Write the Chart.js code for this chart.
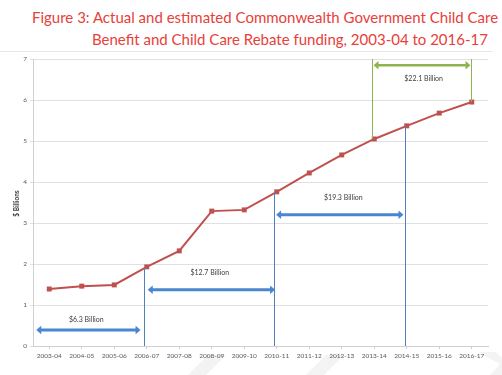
<!DOCTYPE html>
<html>
<head>
<meta charset="utf-8">
<script src="https://cdn.jsdelivr.net/npm/chart.js@4/dist/chart.umd.min.js"></script>
<style>
  html, body { margin: 0; padding: 0; background: #ffffff; }
  #wrap { position: relative; width: 502px; height: 375px; overflow: hidden; }
  #bg { position: absolute; left: 0; top: 0; }
  #c { position: absolute; left: 0; top: 0; }
  .t { position: absolute; font-family: Lato, "Open Sans", sans-serif; font-size: 15px; color: #e8403a; white-space: nowrap; line-height: 20px; }
  #sep { position: absolute; left: 0; top: 51px; width: 492px; height: 1px; background: #e6e6e6; }
</style>
</head>
<body>
<div id="wrap">
  <svg id="bg" width="502" height="375">
    <polygon points="188,375 206,375 226,355 208,355" fill="#f3f3f3"/>
    <polygon points="306,375 324,375 344,355 326,355" fill="#f3f3f3"/>
    <polygon points="478,352 496,352 502,358 502,375 490,375 500,364" fill="#f3f3f3"/>
  </svg>
  <div class="t" id="t1" style="left:32px; top:7px;">Figure 3: Actual and estimated Commonwealth Government Child Care</div>
  <div class="t" id="t2" style="left:92px; top:29px;">Benefit and Child Care Rebate funding, 2003-04 to 2016-17</div>
  <div id="sep"></div>
  <canvas id="c" width="502" height="375"></canvas>
</div>
<script>
// ---- data ----
const categories = ['2003-04','2004-05','2005-06','2006-07','2007-08','2008-09','2009-10','2010-11','2011-12','2012-13','2013-14','2014-15','2015-16','2016-17'];
const funding = [1.39, 1.46, 1.49, 1.93, 2.32, 3.29, 3.32, 3.76, 4.22, 4.66, 5.05, 5.37, 5.68, 5.95];
const yTicks = [0, 1, 2, 3, 4, 5, 6, 7];
const yTitle = '$ Billions';

// period spans (category index units) and their totals
const spanLabels = ['$6.3 Billion', '$12.7 Billion', '$19.3 Billion'];
const spanStart = [-0.40, 3.03, 6.98];
const spanEnd = [2.81, 6.95, 10.90];
const spanLevel = [0.39, 1.37, 3.20];
const spanLabelX = [1.14, 4.94, 9.05];
const spanLabelY = [0.63, 1.78, 3.61];
const dividerAt = [2.92, 6.92, 10.96];
const dividerTop = [1.93, 3.76, 5.37];

const totalLabel = '$22.1 Billion';
const totalStart = 9.94;
const totalEnd = 12.97;
const totalLevel = 6.85;
const totalLabelX = 11.52;
const totalLabelY = 6.51;
const totalLeftBottom = 5.05;
const totalRightBottom = 5.95;

function arrowHead(ctx, x, y, dir, size) {
  ctx.beginPath();
  ctx.moveTo(x, y);
  ctx.lineTo(x - dir * size, y - size * 0.85);
  ctx.lineTo(x - dir * size, y + size * 0.85);
  ctx.closePath();
  ctx.fill();
}

const annot = {
  id: 'annot',
  afterDatasetsDraw(chart) {
    const ctx = chart.ctx, xs = chart.scales.x, ys = chart.scales.y;
    const X = v => xs.getPixelForValue(v);
    const Y = v => ys.getPixelForValue(v);
    ctx.save();
    // blue dividers
    ctx.strokeStyle = '#4f81bd'; ctx.lineWidth = 1;
    dividerAt.forEach((d, i) => {
      const x = Math.round(X(d)) + 0.5;
      ctx.beginPath(); ctx.moveTo(x, Y(0)); ctx.lineTo(x, Y(dividerTop[i])); ctx.stroke();
    });
    // blue arrows
    ctx.strokeStyle = '#4a86cf'; ctx.fillStyle = '#4a86cf'; ctx.lineWidth = 3;
    spanStart.forEach((s, i) => {
      const x1 = X(s), x2 = X(spanEnd[i]), y = Y(spanLevel[i]);
      ctx.beginPath(); ctx.moveTo(x1 + 4, y); ctx.lineTo(x2 - 4, y); ctx.stroke();
      arrowHead(ctx, x1, y, -1, 5);
      arrowHead(ctx, x2, y, 1, 5);
    });
    // green bracket
    ctx.strokeStyle = '#8fb44e'; ctx.fillStyle = '#8fb44e'; ctx.lineWidth = 1;
    const gx1 = Math.round(X(totalStart)) + 0.5, gx2 = Math.round(X(totalEnd)) + 0.5;
    ctx.beginPath(); ctx.moveTo(gx1, Y(7)); ctx.lineTo(gx1, Y(totalLeftBottom)); ctx.stroke();
    ctx.beginPath(); ctx.moveTo(gx2, Y(7)); ctx.lineTo(gx2, Y(totalRightBottom)); ctx.stroke();
    ctx.lineWidth = 2.5;
    const gy = Y(totalLevel);
    ctx.beginPath(); ctx.moveTo(gx1 + 4, gy); ctx.lineTo(gx2 - 4, gy); ctx.stroke();
    arrowHead(ctx, gx1 + 1, gy, -1, 5);
    arrowHead(ctx, gx2 - 1, gy, 1, 5);
    // labels
    ctx.fillStyle = '#404040';
    ctx.font = '7px Lato, "Open Sans", sans-serif';
    ctx.textAlign = 'center'; ctx.textBaseline = 'middle';
    spanLabels.forEach((l, i) => ctx.fillText(l, X(spanLabelX[i]), Y(spanLabelY[i])));
    ctx.fillText(totalLabel, X(totalLabelX), Y(totalLabelY));
    // y axis title
    ctx.save();
    ctx.translate(17, (ys.top + ys.bottom) / 2 + 1);
    ctx.rotate(-Math.PI / 2);
    ctx.font = 'bold 6.5px Lato, "Open Sans", sans-serif';
    ctx.fillText(yTitle, 0, 0);
    ctx.restore();
    ctx.restore();
  }
};

new Chart(document.getElementById('c'), {
  type: 'line',
  data: {
    labels: categories,
    datasets: [{
      data: funding,
      borderColor: '#c0504d',
      backgroundColor: '#c0504d',
      borderWidth: 2,
      pointStyle: 'rect',
      pointRadius: 3.5,
      pointBorderWidth: 0,
      tension: 0
    }]
  },
  options: {
    responsive: false,
    animation: false,
    devicePixelRatio: 1,
    layout: { padding: { top: 59, left: 0, right: 14, bottom: 0 } },
    plugins: { legend: { display: false }, tooltip: { enabled: false }, title: { display: false } },
    scales: {
      x: {
        offset: true,
        afterFit(s) { s.height = 29; },
        grid: { display: true, drawOnChartArea: false, drawTicks: true, tickLength: 3, color: '#d0d0d0', offset: false },
        border: { color: '#d0d0d0' },
        ticks: { color: '#595959', font: { size: 6.5, family: 'Lato, "Open Sans", sans-serif' }, maxRotation: 0, autoSkip: false, padding: 3 }
      },
      y: {
        min: 0, max: 7,
        afterFit(s) { s.width = 33; },
        afterBuildTicks(s) { s.ticks = yTicks.map(v => ({ value: v })); },
        grid: { color: '#e0e0e0', drawTicks: true, tickLength: 3 },
        border: { color: '#d0d0d0' },
        ticks: { color: '#595959', font: { size: 6.5, family: 'Lato, "Open Sans", sans-serif' }, padding: 3 }
      }
    }
  },
  plugins: [annot]
});
</script>
</body>
</html>
